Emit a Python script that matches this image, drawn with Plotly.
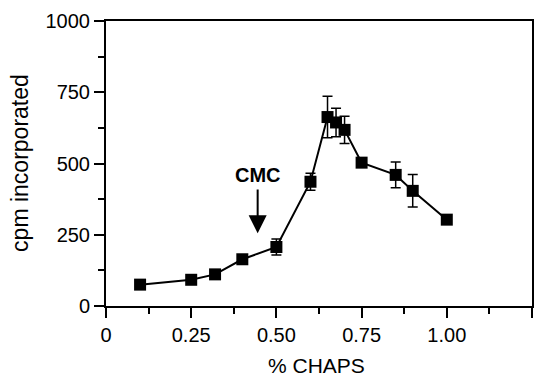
import plotly.graph_objects as go

chaps = [0.10, 0.25, 0.32, 0.40, 0.50, 0.60, 0.65, 0.675, 0.70, 0.75, 0.85, 0.90, 1.00]
cpm = [75, 92, 111, 164, 207, 436, 663, 644, 618, 503, 460, 404, 303]
err = [8, 8, 10, 10, 28, 30, 73, 50, 48, 15, 45, 57, 8]

x_ticks = [0, 0.25, 0.5, 0.75, 1.0, 1.25]
x_ticklabels = ["0", "0.25", "0.50", "0.75", "1.00", "1.25"]
y_ticks = [0, 250, 500, 750, 1000]

font_family = "Liberation Sans, Arial, sans-serif"

fig = go.Figure()
fig.add_trace(go.Scatter(
    x=chaps, y=cpm,
    mode="lines+markers",
    line=dict(color="black", width=2),
    marker=dict(symbol="square", size=12, color="black"),
    error_y=dict(type="data", array=err, visible=True, color="black", thickness=1.5, width=5),
    showlegend=False,
))

# CMC annotation
fig.add_annotation(x=0.445, y=255, ax=0.445, ay=414, xref="x", yref="y", axref="x", ayref="y",
                   text="", showarrow=True, arrowhead=2, arrowsize=1.8, arrowwidth=2,
                   arrowcolor="black", standoff=0)
fig.add_annotation(x=0.445, y=459, xref="x", yref="y", text="<b>CMC</b>", showarrow=False,
                   font=dict(family=font_family, size=20, color="black"))

# axis titles
fig.add_annotation(x=0.493, y=-0.254, xref="paper", yref="paper", text="% CHAPS", showarrow=False,
                   xanchor="center", yanchor="bottom", borderpad=0,
                   font=dict(family=font_family, size=21, color="black"))
fig.add_annotation(x=-0.202, y=0.502, xref="paper", yref="paper", text="cpm incorporated", showarrow=False,
                   xanchor="center", yanchor="middle", textangle=-90,
                   font=dict(family=font_family, size=23, color="black"))

axis_common = dict(
    showgrid=False, zeroline=False, showline=True, linecolor="black", linewidth=2,
    mirror=True, ticks="outside", tickcolor="black", tickwidth=2, ticklen=10,
    tickfont=dict(family=font_family, size=20, color="black"), automargin=False,
)

fig.update_xaxes(range=[0, 1.25], tickvals=x_ticks, ticktext=x_ticklabels,
                 minor=dict(dtick=0.125, ticks="outside", ticklen=6, tickcolor="black", tickwidth=2),
                 **axis_common)
fig.update_yaxes(range=[0, 1000], tickvals=y_ticks,
                 minor=dict(dtick=125, ticks="outside", ticklen=6, tickcolor="black", tickwidth=2),
                 **axis_common)

fig.update_layout(
    width=550, height=379,
    margin=dict(l=106, r=18, t=21, b=73),
    plot_bgcolor="white", paper_bgcolor="white",
)

fig.write_html("out.html")
